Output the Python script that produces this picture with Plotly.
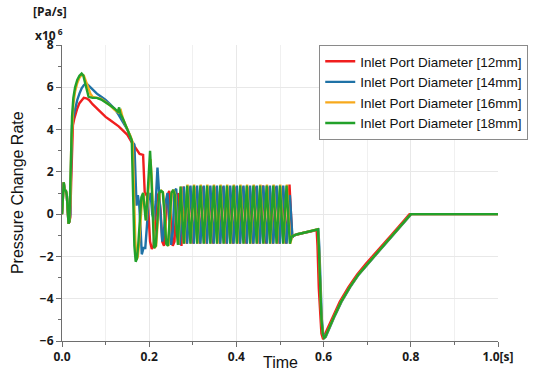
import plotly.graph_objects as go

# ---------------- data (time in s, pressure change rate in 1e6 Pa/s) ----------------
names = ["Inlet Port Diameter [12mm]", "Inlet Port Diameter [14mm]",
         "Inlet Port Diameter [16mm]", "Inlet Port Diameter [18mm]"]
colors = ["#f01e1e", "#1f72a6", "#f7a91c", "#22a12a"]

x_tickvals = [0, 0.2, 0.4, 0.6, 0.8, 1.0]
x_ticktext = ["0.0", "0.2", "0.4", "0.6", "0.8", "1.0[s]"]
y_tickvals = [-6, -4, -2, 0, 2, 4, 6, 8]

# start-up, peak, decay and irregular transition phase
red_t = [0, 0.002, 0.004, 0.006, 0.009, 0.011, 0.013, 0.015, 0.017, 0.019, 0.021, 0.023, 0.025,
         0.028, 0.031, 0.035, 0.040, 0.045, 0.050, 0.056, 0.062, 0.070, 0.080, 0.090, 0.100,
         0.110, 0.120, 0.130, 0.140, 0.150, 0.160, 0.170, 0.178, 0.186, 0.188, 0.190, 0.194,
         0.198, 0.202, 0.206, 0.210, 0.214, 0.218, 0.222, 0.226, 0.230, 0.234, 0.238, 0.242,
         0.246, 0.250, 0.254, 0.258, 0.262, 0.266, 0.270, 0.274, 0.2787, 0.2862]
red_v = [0.0, 1.3, 1.5, 1.15, 1.1, 0.9, 0.3, -0.45, -0.35, -0.15, 1.5, 3.5, 4.2,
         4.5, 4.75, 5.0, 5.25, 5.4, 5.5, 5.48, 5.4, 5.2, 5.0, 4.8, 4.6,
         4.45, 4.3, 4.15, 3.95, 3.75, 3.4, 3.1, 2.85, 2.8, 1.5, 0.9, 1.0,
         0.2, -1.3, -1.65, -1.5, -0.3, 0.8, 1.0, 0.2, -1.3, -1.5, -0.4, 0.9,
         1.1, 0.0, -1.5, -1.3, 0.4, 1.0, -0.4, -1.5, 1.3, -1.4]

blue_t = [0, 0.002, 0.004, 0.006, 0.009, 0.011, 0.013, 0.015, 0.017, 0.019, 0.021, 0.023, 0.026,
          0.030, 0.035, 0.040, 0.045, 0.050, 0.055, 0.060, 0.070, 0.080, 0.090, 0.100, 0.110,
          0.120, 0.130, 0.140, 0.150, 0.155, 0.160, 0.166, 0.169, 0.171, 0.174, 0.177, 0.180,
          0.183, 0.187, 0.191, 0.195, 0.199, 0.203, 0.207, 0.211, 0.215, 0.219, 0.222, 0.226,
          0.230, 0.234, 0.238, 0.242, 0.246, 0.250, 0.254, 0.258, 0.262, 0.266, 0.270, 0.2795,
          0.2870]
blue_v = [0.0, 1.3, 1.5, 1.15, 1.1, 0.9, 0.3, -0.45, -0.35, 0.0, 2.5, 4.2, 4.6,
          5.0, 5.4, 5.7, 5.95, 6.1, 6.2, 6.1, 5.9, 5.7, 5.55, 5.4, 5.2,
          5.0, 4.7, 4.35, 4.0, 3.75, 3.45, 3.3, 2.0, 0.4, 0.9, 0.5, -0.6,
          -1.9, -1.6, -1.6, -0.5, 0.8, 1.0, 0.0, -0.3, 0.6, 2.2, 1.2, -0.5,
          -1.3, -0.8, 0.6, 1.0, -0.3, -1.45, -0.9, 1.1, 1.2, -0.5, -1.45, 1.3,
          -1.4]

orange_t = [0, 0.002, 0.004, 0.006, 0.009, 0.011, 0.013, 0.015, 0.017, 0.019, 0.021, 0.023, 0.026,
            0.030, 0.035, 0.040, 0.046, 0.050, 0.055, 0.060, 0.065, 0.070, 0.080, 0.090, 0.100,
            0.110, 0.120, 0.130, 0.135, 0.140, 0.150, 0.157, 0.162, 0.165, 0.168, 0.171, 0.174,
            0.177, 0.180, 0.184, 0.187, 0.190, 0.193, 0.196, 0.200, 0.203, 0.206, 0.209, 0.212,
            0.216, 0.220, 0.224, 0.228, 0.232, 0.236, 0.240, 0.244, 0.248, 0.252, 0.256, 0.260,
            0.264, 0.267, 0.273, 0.2802]
orange_v = [0.0, 1.3, 1.5, 1.15, 1.1, 0.9, 0.3, -0.45, -0.35, 0.5, 3.0, 4.3, 5.2,
            5.8, 6.2, 6.45, 6.6, 6.55, 6.3, 6.0, 5.7, 5.55, 5.5, 5.45, 5.3,
            5.15, 4.95, 4.8, 4.9, 4.5, 4.0, 3.7, 3.4, 1.0, -1.2, -2.15, -2.0,
            -1.3, -0.3, 0.8, 1.0, 0.3, -0.3, 0.5, 1.8, 2.6, 1.6, -0.5, -1.6,
            -1.5, -0.2, 1.0, 1.1, 1.0, 0.0, -1.4, -1.5, -0.3, 1.0, 1.15, 0.9,
            -0.8, -1.45, 1.3, -1.4]

green_t = [0, 0.002, 0.004, 0.006, 0.009, 0.011, 0.013, 0.015, 0.017, 0.019, 0.021, 0.023, 0.026,
           0.030, 0.035, 0.040, 0.045, 0.049, 0.053, 0.057, 0.061, 0.070, 0.080, 0.090, 0.100,
           0.110, 0.120, 0.128, 0.131, 0.134, 0.140, 0.150, 0.156, 0.160, 0.163, 0.166, 0.169,
           0.172, 0.175, 0.178, 0.182, 0.186, 0.189, 0.192, 0.195, 0.199, 0.202, 0.205, 0.208,
           0.211, 0.215, 0.219, 0.223, 0.227, 0.231, 0.235, 0.239, 0.243, 0.247, 0.251, 0.255,
           0.259, 0.263, 0.266, 0.272, 0.2794]
green_v = [0.0, 1.3, 1.5, 1.15, 1.1, 0.9, 0.3, -0.45, -0.35, 1.0, 3.5, 4.6, 5.5,
           6.0, 6.35, 6.55, 6.65, 6.55, 6.2, 5.8, 5.55, 5.5, 5.5, 5.42, 5.3,
           5.15, 5.0, 4.85, 5.05, 4.75, 4.5, 4.05, 3.7, 3.5, 1.0, -1.5, -2.25,
           -2.1, -1.4, -0.4, 0.8, 1.0, 0.3, -0.3, 0.5, 2.0, 3.0, 1.8, -0.5,
           -1.6, -1.5, -0.2, 1.0, 1.1, 1.05, 0.0, -1.4, -1.5, -0.3, 1.0, 1.15,
           0.9, -0.8, -1.45, 1.3, -1.4]

# regular oscillation phase (alternating peak / trough instants)
red_osc_t = [0.2938, 0.3014, 0.3090, 0.3166, 0.3242, 0.3318, 0.3394, 0.3470, 0.3546, 0.3622,
             0.3698, 0.3774, 0.3850, 0.3926, 0.4002, 0.4078, 0.4154, 0.4230, 0.4306, 0.4382,
             0.4458, 0.4534, 0.4610, 0.4686, 0.4762, 0.4838, 0.4914, 0.4990, 0.5066, 0.5142,
             0.5218, 0.5280]
red_osc_v = [1.3, -1.4, 1.3, -1.4, 1.3, -1.4, 1.3, -1.4, 1.3, -1.4,
             1.3, -1.4, 1.3, -1.4, 1.3, -1.4, 1.3, -1.4, 1.3, -1.4,
             1.3, -1.4, 1.35, -1.4, 1.3, -1.4, 1.3, -1.4, 1.3, -1.4,
             1.4, -1.1]
blue_osc_t = [0.2946, 0.3022, 0.3098, 0.3174, 0.3250, 0.3326, 0.3402, 0.3478, 0.3554, 0.3630,
              0.3706, 0.3782, 0.3858, 0.3934, 0.4010, 0.4086, 0.4162, 0.4238, 0.4314, 0.4390,
              0.4466, 0.4542, 0.4618, 0.4694, 0.4770, 0.4846, 0.4922, 0.4998, 0.5074, 0.5150,
              0.5226, 0.5285]
blue_osc_v = [1.35, -1.4, 1.35, -1.4, 1.35, -1.4, 1.35, -1.4, 1.35, -1.4,
              1.35, -1.4, 1.35, -1.4, 1.35, -1.4, 1.35, -1.4, 1.35, -1.4,
              1.35, -1.4, 1.35, -1.4, 1.35, -1.4, 1.35, -1.4, 1.35, -1.4,
              0.9, -1.1]
orange_osc_t = [0.2878, 0.2954, 0.3030, 0.3106, 0.3182, 0.3258, 0.3334, 0.3410, 0.3486, 0.3562,
                0.3638, 0.3714, 0.3790, 0.3866, 0.3942, 0.4018, 0.4094, 0.4170, 0.4246, 0.4322,
                0.4398, 0.4474, 0.4550, 0.4626, 0.4702, 0.4778, 0.4854, 0.4930, 0.5006, 0.5082,
                0.5158, 0.5234, 0.5278]
orange_osc_v = [1.4, -1.4, 1.4, -1.4, 1.4, -1.4, 1.4, -1.4, 1.4, -1.4,
                1.4, -1.4, 1.4, -1.4, 1.4, -1.4, 1.4, -1.4, 1.4, -1.4,
                1.4, -1.4, 1.4, -1.4, 1.4, -1.4, 1.4, -1.4, 1.4, -1.4,
                1.4, -1.4, -1.05]
green_osc_t = [0.2870, 0.2946, 0.3022, 0.3098, 0.3174, 0.3250, 0.3326, 0.3402, 0.3478, 0.3554,
               0.3630, 0.3706, 0.3782, 0.3858, 0.3934, 0.4010, 0.4086, 0.4162, 0.4238, 0.4314,
               0.4390, 0.4466, 0.4542, 0.4618, 0.4694, 0.4770, 0.4846, 0.4922, 0.4998, 0.5074,
               0.5150, 0.5226, 0.5270]
green_osc_v = [1.35, -1.4, 1.35, -1.4, 1.35, -1.4, 1.35, -1.4, 1.35, -1.4,
               1.35, -1.4, 1.35, -1.4, 1.35, -1.4, 1.35, -1.4, 1.35, -1.4,
               1.35, -1.4, 1.35, -1.4, 1.35, -1.4, 1.35, -1.4, 1.35, -1.4,
               1.35, -1.4, -1.05]

# settling, valve closing dip and recovery
red_post_t = [0.532, 0.540, 0.555, 0.570, 0.579, 0.582, 0.584, 0.586, 0.589, 0.592, 0.595,
              0.598, 0.601, 0.607, 0.622, 0.637, 0.657, 0.677, 0.697, 0.717, 0.737, 0.757,
              0.777, 0.797, 1.0]
red_post_v = [-1.0, -0.95, -0.88, -0.82, -0.78, -0.76, -0.72, -1.5, -3.5, -5.0, -5.65,
              -5.85, -5.8, -5.5, -4.8, -4.15, -3.45, -2.85, -2.35, -1.9, -1.42, -0.95,
              -0.48, 0.0, 0.0]
blue_post_t = [0.532, 0.540, 0.555, 0.570, 0.580, 0.586, 0.588, 0.590, 0.593, 0.596, 0.599,
               0.602, 0.605, 0.611, 0.626, 0.641, 0.661, 0.681, 0.701, 0.721, 0.741, 0.761,
               0.781, 0.801, 1.0]
blue_post_v = [-1.0, -0.95, -0.88, -0.82, -0.78, -0.76, -0.72, -1.5, -3.5, -5.0, -5.65,
               -5.85, -5.8, -5.5, -4.8, -4.15, -3.45, -2.85, -2.35, -1.9, -1.42, -0.95,
               -0.48, 0.0, 0.0]
green_post_t = [0.532, 0.540, 0.555, 0.570, 0.580, 0.585, 0.587, 0.589, 0.592, 0.595, 0.598,
                0.601, 0.604, 0.610, 0.625, 0.640, 0.660, 0.680, 0.700, 0.720, 0.740, 0.760,
                0.780, 0.800, 1.0]
green_post_v = [-1.0, -0.95, -0.88, -0.82, -0.78, -0.76, -0.72, -1.5, -3.5, -5.0, -5.65,
                -5.85, -5.8, -5.5, -4.8, -4.15, -3.45, -2.85, -2.35, -1.9, -1.42, -0.95,
                -0.48, 0.0, 0.0]

series_t = [red_t + red_osc_t + red_post_t,
            blue_t + blue_osc_t + blue_post_t,
            orange_t + orange_osc_t + green_post_t,
            green_t + green_osc_t + green_post_t]
series_v = [red_v + red_osc_v + red_post_v,
            blue_v + blue_osc_v + blue_post_v,
            orange_v + orange_osc_v + green_post_v,
            green_v + green_osc_v + green_post_v]

# ---------------- figure ----------------
fig = go.Figure()
for name, col, tt, vv in zip(names, colors, series_t, series_v):
    fig.add_trace(go.Scatter(x=tt, y=vv, mode="lines", name=name,
                             line=dict(color=col, width=2.4)))

tick_font = dict(family="Open Sans, DejaVu Sans, sans-serif", size=12, color="#1a1a1a", weight="bold")
title_font = dict(family="Arial, Liberation Sans, sans-serif", size=16, color="#111")
axis_common = dict(showline=True, linecolor="#6e6e6e", linewidth=1, ticks="outside",
                   ticklen=5, tickcolor="#6e6e6e", zeroline=False, tickfont=tick_font,
                   gridcolor="#e8e8e8", gridwidth=1, automargin=False)

fig.update_layout(
    width=550, height=378,
    margin=dict(l=62, r=52, t=45, b=37),
    paper_bgcolor="white", plot_bgcolor="white",
    showlegend=True,
    legend=dict(x=0.59, y=1.0, xanchor="left", yanchor="top",
                bgcolor="white", bordercolor="#8a8a8a", borderwidth=1,
                font=dict(family="Arial, Liberation Sans, sans-serif", size=13.5, color="#111"),
                tracegroupgap=0, itemwidth=30),
    xaxis=dict(range=[0, 1.0], tickvals=x_tickvals, ticktext=x_ticktext,
               minor=dict(dtick=0.1, ticks="outside", ticklen=3, tickcolor="#6e6e6e",
                          showgrid=True, gridcolor="#f0f0f0"),
               **axis_common),
    yaxis=dict(range=[-6, 8], tickvals=y_tickvals,
               minor=dict(dtick=1, ticks="outside", ticklen=3, tickcolor="#6e6e6e", showgrid=False),
               **axis_common),
)

ann_font = dict(family="Open Sans, DejaVu Sans, sans-serif", size=12, color="#1a1a1a")
fig.add_annotation(xref="paper", yref="paper", x=0.5, y=-0.071, xanchor="center", yanchor="middle",
                   text="Time", showarrow=False, font=title_font)
fig.add_annotation(xref="paper", yref="paper", x=-0.103, y=0.5, xanchor="center", yanchor="middle",
                   text="Pressure Change Rate", textangle=-90, showarrow=False, font=title_font)
fig.add_annotation(xref="paper", yref="paper", x=-0.071, y=1.113, xanchor="left", yanchor="middle",
                   text="<b>[Pa/s]</b>", showarrow=False, font=ann_font)
fig.add_annotation(xref="paper", yref="paper", x=-0.066, y=1.035, xanchor="left", yanchor="middle",
                   text="<b>x10<sup> 6</sup></b>", showarrow=False, font=ann_font)

# remove the page's default 8px body margin so the figure fills the window exactly
fig.write_html("out.html", config={"displayModeBar": False},
               post_script="document.body.style.margin='0px';")
